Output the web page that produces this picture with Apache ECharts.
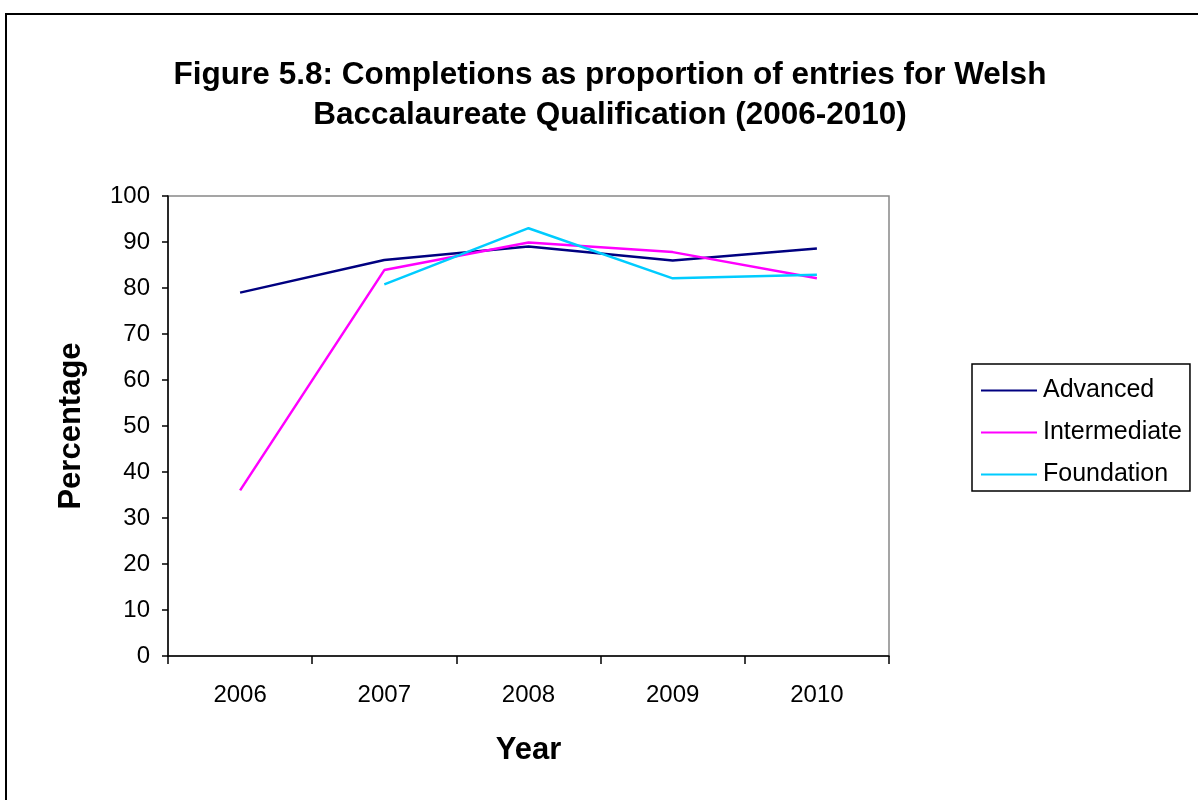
<!DOCTYPE html>
<html><head><meta charset="utf-8">
<script src="https://cdn.jsdelivr.net/npm/echarts@6/dist/echarts.min.js"></script>
<style>html,body{margin:0;padding:0;background:#fff}#c{width:1198px;height:800px}</style>
</head><body><div id="c"></div>
<script>
const years = ['2006','2007','2008','2009','2010'];
const advanced = [79, 86.1, 89, 86, 88.6];
const intermediate = [36, 83.9, 89.9, 87.8, 82.1];
const foundation = [null, 80.8, 93, 82.1, 82.9];
const yTicks = {min: 0, max: 100, interval: 10};

const chart = echarts.init(document.getElementById('c'), null, {renderer: 'canvas'});
const font = '"Liberation Sans", Arial, sans-serif';
chart.setOption({
  animation: false,
  backgroundColor: '#fff',
  textStyle: {fontFamily: font},
  graphic: [{
    type: 'rect', shape: {x: 6, y: 14, width: 1220, height: 820},
    style: {fill: 'none', stroke: '#000', lineWidth: 2}, silent: true
  }, {
    type: 'text', x: 610, y: 55,
    style: {text: 'Figure 5.8: Completions as proportion of entries for Welsh\nBaccalaureate Qualification (2006-2010)',
      font: 'bold 31.5px ' + font, fill: '#000', align: 'center', verticalAlign: 'top', lineHeight: 40}
  }],
  grid: {left: 168, top: 196, width: 721, height: 460, show: true, borderColor: '#888', borderWidth: 1.5, backgroundColor: '#fff'},
  legend: {
    orient: 'vertical', left: 972, top: 364,
    borderColor: '#000', borderWidth: 1.5, padding: [14, 8, 4, 9],
    icon: 'rect', itemWidth: 56, itemHeight: 2, itemGap: 17,
    textStyle: {fontSize: 25, color: '#000', fontFamily: font, padding: [0, 0, 0, 1]},
    data: ['Advanced', 'Intermediate', 'Foundation']
  },
  xAxis: {
    type: 'category', data: years, boundaryGap: true,
    name: 'Year', nameLocation: 'middle', nameGap: 79,
    nameTextStyle: {fontSize: 31, fontWeight: 'bold', color: '#000', fontFamily: font},
    axisLine: {lineStyle: {color: '#000', width: 1.5}},
    axisTick: {show: true, length: 8, lineStyle: {color: '#000', width: 1.5}},
    axisLabel: {fontSize: 24, color: '#000', margin: 27, fontFamily: font},
    splitLine: {show: false}
  },
  yAxis: {
    type: 'value', min: yTicks.min, max: yTicks.max, interval: yTicks.interval,
    name: 'Percentage', nameLocation: 'middle', nameGap: 81, nameRotate: 90,
    nameTextStyle: {fontSize: 31, fontWeight: 'bold', color: '#000', fontFamily: font},
    axisLine: {show: true, lineStyle: {color: '#000', width: 1.5}},
    axisTick: {show: true, length: 6, lineStyle: {color: '#000', width: 1.5}},
    axisLabel: {fontSize: 24, color: '#000', margin: 18, fontFamily: font},
    splitLine: {show: false}
  },
  series: [
    {name: 'Advanced', type: 'line', data: advanced, symbol: 'none', showSymbol: false,
      lineStyle: {color: '#000080', width: 2.5}, itemStyle: {color: '#000080'}},
    {name: 'Intermediate', type: 'line', data: intermediate, symbol: 'none', showSymbol: false,
      lineStyle: {color: '#ff00ff', width: 2.5}, itemStyle: {color: '#ff00ff'}},
    {name: 'Foundation', type: 'line', data: foundation, symbol: 'none', showSymbol: false, connectNulls: false,
      lineStyle: {color: '#00ccff', width: 2.5}, itemStyle: {color: '#00ccff'}}
  ]
});
</script></body></html>
